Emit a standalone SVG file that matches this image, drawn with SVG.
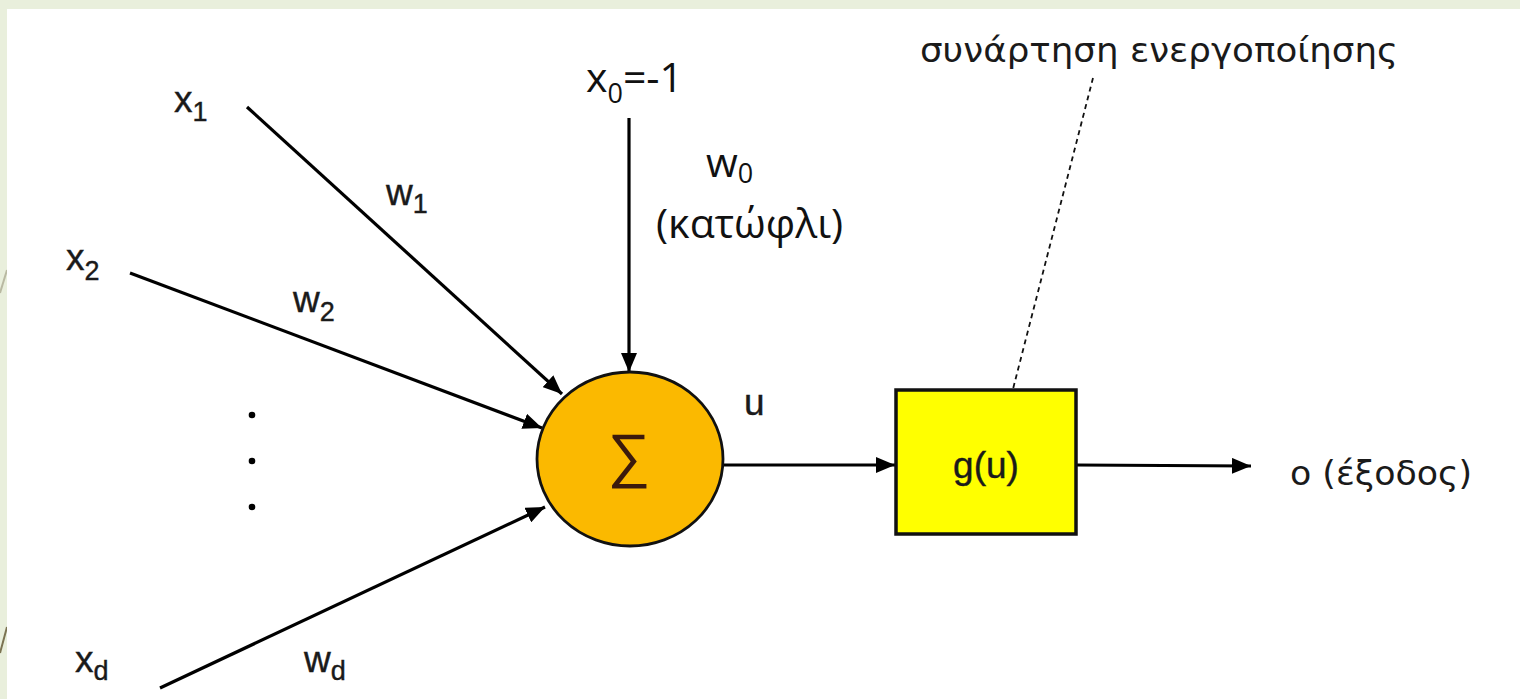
<svg xmlns="http://www.w3.org/2000/svg" width="1520" height="699" viewBox="0 0 1520 699">
  <style>
    .lbl { font-family: "Liberation Sans", Arial, sans-serif; font-size: 37px; fill: #1a1a1a; stroke: #1a1a1a; stroke-width: 0.4; }
    .sub { font-size: 27px; }
    .cal { font-family: "Open Sans", "Noto Sans", sans-serif; font-size: 41px; fill: #111; }
    .gr { font-family: "DejaVu Sans", "Noto Sans", sans-serif; fill: #1a1a1a; }
    .conn { stroke: #000; stroke-width: 3.2; fill: none; }
  </style>
  <defs>
    <marker id="arr" markerUnits="userSpaceOnUse" markerWidth="20" markerHeight="16" refX="19" refY="8" orient="auto">
      <path d="M0,0 L19,8 L0,16 z" fill="#000"/>
    </marker>
  </defs>

  <rect x="0" y="0" width="1520" height="699" fill="#e9efdc"/>
  <line x1="0" y1="653" x2="7" y2="627" stroke="#7b7352" stroke-width="2"/>
  <line x1="0" y1="293" x2="7" y2="270" stroke="#b9b9a2" stroke-width="2"/>
  <rect x="7" y="9" width="1513" height="690" fill="#ffffff"/>

  <g id="connectors">
    <path class="conn" d="M247,107 L562,394" marker-end="url(#arr)"/>
    <path class="conn" d="M130,273 L542,428" marker-end="url(#arr)"/>
    <path class="conn" d="M160,688 L545,507" marker-end="url(#arr)"/>
    <path class="conn" d="M629,118 L629,372" marker-end="url(#arr)"/>
    <path class="conn" d="M723,465 L895,465" marker-end="url(#arr)"/>
    <path class="conn" d="M1076,465 L1251,466" marker-end="url(#arr)"/>
    <path d="M1093,78 L1013,389" stroke="#111" stroke-width="1.8" stroke-dasharray="5,4" fill="none"/>
  </g>

  <g id="input-x1">
    <text class="lbl" x="174" y="112">x<tspan class="sub" dy="9">1</tspan></text>
  </g>
  <g id="input-x2">
    <text class="lbl" x="66" y="270">x<tspan class="sub" dy="10">2</tspan></text>
  </g>
  <g id="input-xd">
    <text class="lbl" x="75" y="672">x<tspan class="sub" dy="8">d</tspan></text>
  </g>
  <g id="dots">
    <circle cx="252" cy="415" r="3.3" fill="#000"/>
    <circle cx="252" cy="461" r="3.3" fill="#000"/>
    <circle cx="252" cy="507" r="3.3" fill="#000"/>
  </g>
  <g id="weight-w1">
    <text class="lbl" x="386" y="205">w<tspan class="sub" dy="8">1</tspan></text>
  </g>
  <g id="weight-w2">
    <text class="lbl" x="293" y="312">w<tspan class="sub" dy="9">2</tspan></text>
  </g>
  <g id="weight-wd">
    <text class="lbl" x="304" y="672">w<tspan class="sub" dy="8">d</tspan></text>
  </g>
  <g id="bias">
    <text class="cal" x="586" y="92">x<tspan font-size="27" dy="11">0</tspan><tspan dy="-11">=-1</tspan></text>
    <text class="cal" x="706" y="177">w<tspan font-size="27" dy="6">0</tspan></text>
    <text class="cal" x="656" y="238">(κατώφλι)</text>
  </g>

  <g id="sum">
    <ellipse cx="630" cy="459" rx="93" ry="87" fill="#fbb900" stroke="#111" stroke-width="2.8"/>
    <text x="629" y="476" text-anchor="middle" font-family="Liberation Sans, sans-serif" font-size="60" fill="#3b1a0c">∑</text>
  </g>
  <g id="label-u">
    <text class="lbl" x="744" y="415">u</text>
  </g>

  <g id="activation">
    <rect x="896" y="390" width="180" height="144" fill="#ffff00" stroke="#111" stroke-width="3.5"/>
    <text class="lbl" x="986" y="478" text-anchor="middle" font-size="35">g(u)</text>
  </g>
  <g id="activation-label">
    <text class="gr" x="920" y="62" font-size="34" textLength="478" lengthAdjust="spacingAndGlyphs">συνάρτηση  ενεργοποίησης</text>
  </g>
  <g id="output">
    <text class="gr" x="1290" y="485" font-size="33" textLength="182" lengthAdjust="spacingAndGlyphs">ο (έξοδος)</text>
  </g>
</svg>
